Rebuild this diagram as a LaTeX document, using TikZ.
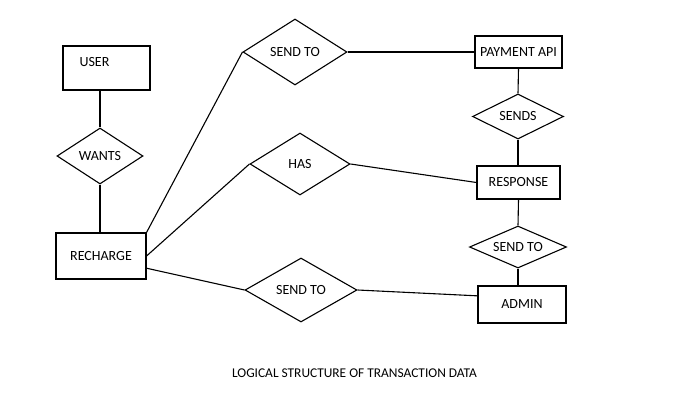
\documentclass[tikz,border=0pt]{standalone}
\usepackage{fontspec}
\setmainfont{Carlito}
\usepackage{tikz}
\usetikzlibrary{shapes.geometric}
\tikzstyle{entity}=[draw, line width=1.1pt, inner sep=0pt, font=\fontsize{14}{16}\selectfont]
\tikzstyle{relation}=[entity, diamond, aspect=1.6]
\tikzstyle{link}=[line width=1.1pt]

\begin{document}
\begin{tikzpicture}[x=1pt, y=-1pt]
        \useasboundingbox (0,0) rectangle (676,404);
        \node[entity, minimum width=87pt, minimum height=44pt, label={[xshift=-12pt, yshift=6pt, font=\fontsize{14}{16}\selectfont]center:USER}] (user) at (106.5, 68) {};
        \node[relation, minimum width=86pt, minimum height=56pt] (wants) at (100, 156) {WANTS};
        \node[entity, minimum width=90pt, minimum height=46pt] (recharge) at (101, 256) {RECHARGE};
        \node[relation, minimum width=104pt, minimum height=66pt] (sendA) at (295, 52) {SEND TO};
        \node[relation, minimum width=100pt, minimum height=62pt] (has) at (300, 164) {HAS};
        \node[relation, minimum width=112pt, minimum height=64pt] (sendC) at (301, 290) {SEND TO};
        \node[entity, minimum width=87pt, minimum height=32pt] (payment) at (518.5, 52) {PAYMENT API};
        \node[relation, minimum width=91pt, minimum height=45pt] (sends) at (518, 116.5) {SENDS};
        \node[entity, minimum width=83pt, minimum height=33pt] (response) at (518.5, 182.5) {RESPONSE};
        \node[relation, minimum width=97pt, minimum height=42pt] (sendB) at (518, 247) {SEND TO};
        \node[entity, minimum width=88pt, minimum height=37pt] (admin) at (522, 304.5) {ADMIN};
        \node[font=\fontsize{13.4}{15}\selectfont] (title) at (354.5, 373) {LOGICAL STRUCTURE OF TRANSACTION DATA};

        \draw[link] (user.south -| wants.north) -- (wants.north);
        \draw[link] (wants.south) -- (wants.south |- recharge.north);
        \draw[link] (recharge.north east) -- (sendA.west);
        \draw[link] (recharge.east) -- (has.west);
        \draw[link] (recharge.-15) -- (sendC.west);
        \draw[link] (sendA.east) -- (payment.west);
        \draw[link] (has.east) -- (response.west);
        \draw[link] (sendC.east) -- (admin.169);
        \draw[link] (payment.south) -- (sends.north);
        \draw[link] (sends.south) -- (sends.south |- response.north);
        \draw[link] (response.south) -- (sendB.north);
        \draw[link] (sendB.south) -- (sendB.south |- admin.north);
    \end{tikzpicture}
\end{document}
